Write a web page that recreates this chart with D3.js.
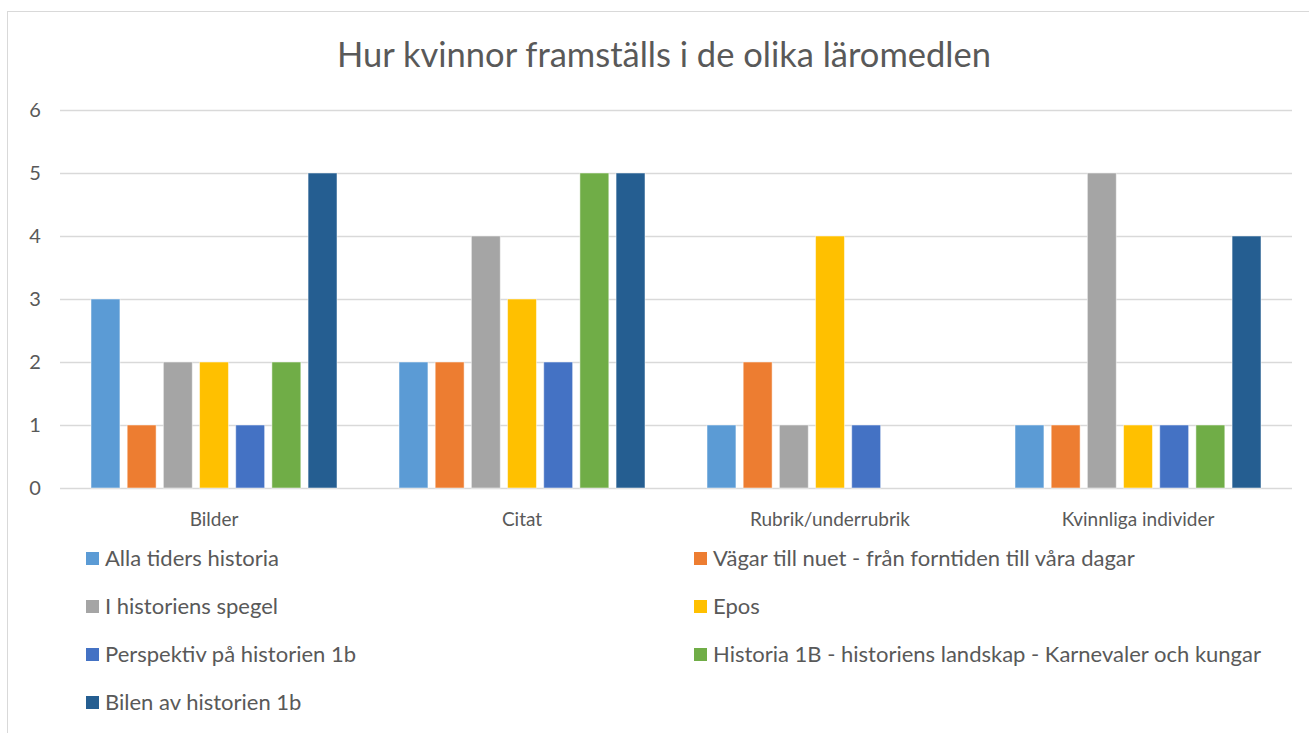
<html>
<head>
<meta charset="utf-8">
<style>
  body { margin:0; background:#fff; }
  .chart text { font-family: Lato, "Open Sans", sans-serif; fill:#595959; }
</style>
</head>
<body>
<svg id="chart1" class="chart"></svg>
<script src="https://d3js.org/d3.v7.min.js"></script>
<script>
var width = 1309, height = 733;

var categories = ["Bilder", "Citat", "Rubrik/underrubrik", "Kvinnliga individer"];
var seriesNames = [
  "Alla tiders historia",
  "Vägar till nuet - från forntiden till våra dagar",
  "I historiens spegel",
  "Epos",
  "Perspektiv på historien 1b",
  "Historia 1B - historiens landskap - Karnevaler och kungar",
  "Bilen av historien 1b"
];
var colors = ["#5B9BD5", "#ED7D31", "#A5A5A5", "#FFC000", "#4472C4", "#70AD47", "#255E91"];
// values per series, one per category
var alla      = [3, 2, 1, 1];
var vagar     = [1, 2, 2, 1];
var spegel    = [2, 4, 1, 5];
var epos      = [2, 3, 4, 1];
var perspekt  = [1, 2, 1, 1];
var historia  = [2, 5, 0, 1];
var bilen     = [5, 5, 0, 4];
var yTicks = [0, 1, 2, 3, 4, 5, 6];

var values = [alla, vagar, spegel, epos, perspekt, historia, bilen];

var svg = d3.select('#chart1').attr('width', width).attr('height', height);

// chart border
svg.append('rect')
  .attr('x', 7.5).attr('y', 11.5)
  .attr('width', width).attr('height', height)
  .attr('fill', 'none').attr('stroke', '#d9d9d9');

svg.append('text')
  .attr('x', 664).attr('y', 67)
  .attr('text-anchor', 'middle')
  .style('font-size', '34.5px')
  .text("Hur kvinnor framställs i de olika läromedlen");

var x0 = d3.scaleBand().domain(categories).range([60, 1292]);
var x1 = d3.scaleBand().domain(d3.range(seriesNames.length))
  .range([31, x0.bandwidth() - 31]).paddingInner(0.2);
var y = d3.scaleLinear().domain([0, 6]).range([488, 110]);

// gridlines
svg.append('g').selectAll('line').data(yTicks).enter().append('line')
  .attr('x1', 60).attr('x2', 1292)
  .attr('y1', function(d){ return y(d) + 0.5; })
  .attr('y2', function(d){ return y(d) + 0.5; })
  .attr('stroke', '#d9d9d9').attr('stroke-width', 1.5);

svg.append('g').selectAll('text').data(yTicks).enter().append('text')
  .attr('x', 35).attr('y', function(d){ return y(d); })
  .attr('dy', '0.35em').attr('text-anchor', 'middle')
  .style('font-size', '20px')
  .text(function(d){ return d; });

// bars
var groups = svg.append('g').selectAll('g').data(categories).enter().append('g')
  .attr('transform', function(d){ return 'translate(' + x0(d) + ',0)'; });

groups.selectAll('rect')
  .data(function(c, ci){ return values.map(function(s, si){ return {s: si, v: s[ci]}; }); })
  .enter().append('rect')
  .filter(function(d){ return d.v > 0; })
  .attr('x', function(d){ return x1(d.s); })
  .attr('width', x1.bandwidth())
  .attr('y', function(d){ return y(d.v); })
  .attr('height', function(d){ return y(0) - y(d.v); })
  .attr('fill', function(d){ return colors[d.s]; })
  .attr('stroke', 'rgba(255,255,255,0.5)').attr('stroke-width', 1);

// category labels
svg.append('g').selectAll('text').data(categories).enter().append('text')
  .attr('x', function(d){ return x0(d) + x0.bandwidth() / 2; })
  .attr('y', 526).attr('text-anchor', 'middle')
  .style('font-size', '19px')
  .text(function(d){ return d; });

// legend
var leg = svg.append('g').selectAll('g').data(seriesNames).enter().append('g')
  .attr('transform', function(d, i){
    var col = i % 2, row = Math.floor(i / 2);
    return 'translate(' + (col ? 694 : 86) + ',' + (558 + row * 48) + ')';
  });
leg.append('rect').attr('x', 0).attr('y', -6).attr('width', 13).attr('height', 13)
  .attr('fill', function(d, i){ return colors[i]; });
leg.append('text').attr('x', 19).attr('dy', '0.35em')
  .style('font-size', '22px')
  .text(function(d){ return d; });
</script>
</body>
</html>
